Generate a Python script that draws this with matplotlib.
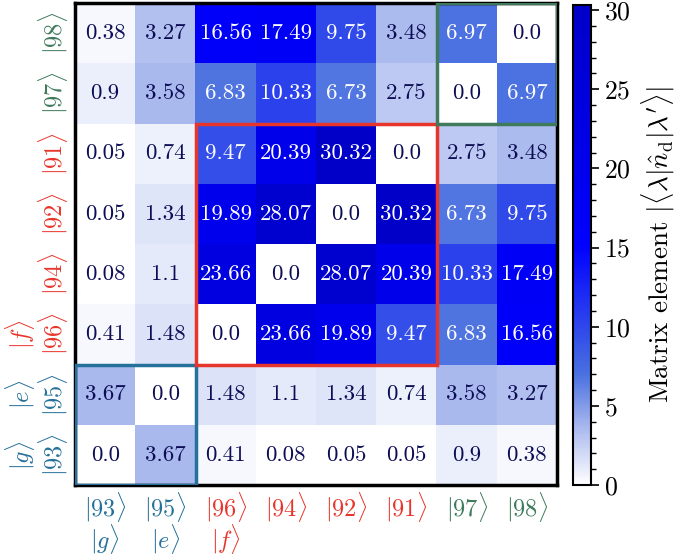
import matplotlib
matplotlib.use("Agg")
import matplotlib.pyplot as plt
import numpy as np
from matplotlib.colors import LinearSegmentedColormap
from matplotlib.patches import Rectangle
from matplotlib.ticker import MultipleLocator

plt.rcParams['font.family'] = 'cmr10'
plt.rcParams['mathtext.fontset'] = 'cm'
plt.rcParams['axes.formatter.use_mathtext'] = True

# etats dans l'ordre des colonnes (et des lignes, de bas en haut)
etats = ['93', '95', '96', '94', '92', '91', '97', '98']
groupes = ['g', 'e', 'f', 'f', 'f', 'f', 'h', 'h']
noms = ['g', 'e', 'f']

# lignes telles qu'affichées, de haut en bas (98, 97, 91, 92, 94, 96, 95, 93)
ligne_98 = [0.38, 3.27, 16.56, 17.49, 9.75, 3.48, 6.97, 0.0]
ligne_97 = [0.9, 3.58, 6.83, 10.33, 6.73, 2.75, 0.0, 6.97]
ligne_91 = [0.05, 0.74, 9.47, 20.39, 30.32, 0.0, 2.75, 3.48]
ligne_92 = [0.05, 1.34, 19.89, 28.07, 0.0, 30.32, 6.73, 9.75]
ligne_94 = [0.08, 1.1, 23.66, 0.0, 28.07, 20.39, 10.33, 17.49]
ligne_96 = [0.41, 1.48, 0.0, 23.66, 19.89, 9.47, 6.83, 16.56]
ligne_95 = [3.67, 0.0, 1.48, 1.1, 1.34, 0.74, 3.58, 3.27]
ligne_93 = [0.0, 3.67, 0.41, 0.08, 0.05, 0.05, 0.9, 0.38]

matrice = np.array([ligne_93, ligne_95, ligne_96, ligne_94,
                    ligne_92, ligne_91, ligne_97, ligne_98])

couleurs = {'g': '#26719a', 'e': '#26719a', 'f': '#e8352b', 'h': '#3f7a5b'}

cmap = LinearSegmentedColormap.from_list(
    'blancbleu',
    [(0.0, '#ffffff'), (0.12, '#a8b8ee'), (0.23, '#4a70e0'),
     (0.5, '#0000ff'), (1.0, '#0000c8')])

fig = plt.figure(figsize=(6.8, 5.58), dpi=100)
ax = fig.add_axes([75 / 680, 1 - 485 / 558, 482 / 680, 482 / 558])
cax = fig.add_axes([573 / 680, 1 - 485 / 558, 18 / 680, 480 / 558])

im = ax.imshow(matrice, cmap=cmap, vmin=0, vmax=matrice.max(),
               origin='lower', aspect='auto')

n = len(etats)
for i in range(n):
    for j in range(n):
        v = matrice[i, j]
        ax.text(j, i, f'{v}', ha='center', va='center', fontsize=16.5,
                color='white' if v > 5 else '#0d0d55')

ax.set_xticks([])
ax.set_yticks([])

# étiquettes des états (deux rangées)
for k, (e, g) in enumerate(zip(etats, groupes)):
    c = couleurs[g]
    ax.text(k, -0.86, rf'$|{e}\rangle$', ha='center', va='center',
            fontsize=17.5, color=c, clip_on=False)
    ax.text(-0.86, k, rf'$|{e}\rangle$', ha='center', va='center',
            fontsize=17.5, color=c, rotation=90, clip_on=False)
for k, nom in enumerate(noms):
    c = couleurs[nom]
    ax.text(k, -1.40, rf'$|{nom}\rangle$', ha='center', va='center',
            fontsize=17.5, color=c, clip_on=False)
    ax.text(-1.42, k, rf'$|{nom}\rangle$', ha='center', va='center',
            fontsize=17.5, color=c, rotation=90, clip_on=False)

for s in ax.spines.values():
    s.set_linewidth(2.5)

# cadres des sous-espaces
ax.add_patch(Rectangle((-0.5, -0.5), 2, 2, fill=False, lw=2.5,
                       edgecolor=couleurs['g'], zorder=5))
ax.add_patch(Rectangle((1.5, 1.5), 4, 4, fill=False, lw=2.5,
                       edgecolor=couleurs['f'], zorder=5))
ax.add_patch(Rectangle((5.5, 5.5), 2, 2, fill=False, lw=2.5,
                       edgecolor=couleurs['h'], zorder=5))

cb = fig.colorbar(im, cax=cax)
cb.set_ticks([0, 5, 10, 15, 20, 25, 30])
cb.ax.yaxis.set_minor_locator(MultipleLocator(1))
cb.ax.tick_params(which='major', length=6, width=1.2, labelsize=18.5)
cb.ax.tick_params(which='minor', length=3.5, width=1)
cb.outline.set_linewidth(1.5)
cb.set_label(r"Matrix element $|\langle\lambda|\hat{n}_\mathrm{d}|\lambda'\rangle|$",
             fontsize=19.5, labelpad=6)

fig.savefig('out.png', dpi=100)
